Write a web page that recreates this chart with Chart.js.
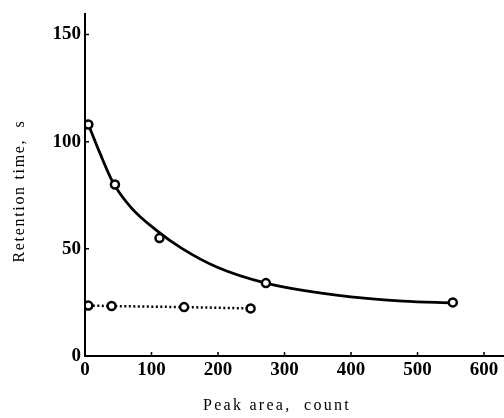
<!DOCTYPE html>
<html>
<head>
<meta charset="utf-8">
<script src="https://cdn.jsdelivr.net/npm/chart.js@4/dist/chart.umd.min.js"></script>
<style>
html,body{margin:0;padding:0;background:#fff;}
#wrap{position:relative;width:504px;height:418px;}
</style>
</head>
<body>
<div id="wrap"><canvas id="c" width="504" height="418"></canvas></div>
<script>
// Data
// measured points (open circles)
const solidX = [5, 45, 112, 272, 553];
const solidY = [108, 80, 55, 34, 25];
const dottedX = [5, 40, 149, 249];
const dottedY = [23.5, 23.3, 22.8, 22.2];
// smooth fitted curve, positions
const curveX = [4.5, 22, 42, 70, 108, 145, 198, 272, 378, 478, 553];
const curveY = [108.5, 95, 81, 69, 58.5, 50.3, 41.5, 34, 28.4, 25.6, 24.8];
const xTicks = [0, 100, 200, 300, 400, 500, 600];
const yTicks = [0, 50, 100, 150];
const xTitle = "Peak area,  count";
const yTitle = "Retention time,  s";

const toPts = (xs, ys) => xs.map((x, i) => ({x: x, y: ys[i]}));

const tickFont = {family: "'Liberation Serif', 'DejaVu Serif', serif", size: 19, weight: 'bold'};

const decor = {
  id: 'decor',
  afterDraw(chart) {
    const ctx = chart.ctx;
    const xs = chart.scales.x, ys = chart.scales.y;
    const ca = chart.chartArea;
    ctx.save();
    ctx.strokeStyle = '#000';
    ctx.lineWidth = 2;
    ctx.beginPath();
    ctx.moveTo(ca.left, ca.top);
    ctx.lineTo(ca.left, ca.bottom);
    ctx.lineTo(ca.right, ca.bottom);
    ctx.stroke();
    ctx.lineWidth = 1.5;
    ctx.beginPath();
    xTicks.forEach(v => { if (v === 0) return; const p = xs.getPixelForValue(v); ctx.moveTo(p, ca.bottom); ctx.lineTo(p, ca.bottom - 4); });
    yTicks.forEach(v => { if (v === 0) return; const p = ys.getPixelForValue(v); ctx.moveTo(ca.left, p); ctx.lineTo(ca.left + 4, p); });
    ctx.stroke();
    ctx.fillStyle = '#000';
    ctx.font = "16px 'Liberation Serif', serif";
    ctx.textBaseline = 'middle';
    ctx.textAlign = 'center';
    const fit = (txt, target) => {
      ctx.letterSpacing = '0px';
      const w = ctx.measureText(txt).width;
      const sp = Math.max(0, (target - w) / txt.length);
      ctx.letterSpacing = sp + 'px';
    };
    fit(xTitle, 148);
    ctx.fillText(xTitle, 277, 406);
    ctx.save();
    ctx.translate(20, 191);
    ctx.rotate(-Math.PI / 2);
    fit(yTitle, 143);
    ctx.fillText(yTitle, 0, 0);
    ctx.restore();
    ctx.restore();
  }
};

new Chart(document.getElementById('c'), {
  type: 'scatter',
  data: {
    datasets: [
      {
        data: toPts(curveX, curveY),
        showLine: true,
        borderColor: '#000',
        borderWidth: 2.8,
        cubicInterpolationMode: 'monotone',
        pointRadius: 0,
        order: 2
      },
      {
        data: toPts(solidX, solidY),
        showLine: false,
        pointRadius: 4,
        pointBorderWidth: 2.5,
        pointBackgroundColor: '#fff',
        pointBorderColor: '#000',
        order: 0
      },
      {
        data: toPts(dottedX, dottedY),
        showLine: true,
        borderColor: '#000',
        borderWidth: 2.5,
        borderDash: [2, 2.5],
        pointRadius: 4,
        pointBorderWidth: 2.5,
        pointBackgroundColor: '#fff',
        pointBorderColor: '#000',
        order: 1
      }
    ]
  },
  options: {
    responsive: false,
    animation: false,
    devicePixelRatio: 1,
    layout: {autoPadding: false, padding: {top: 13, right: 0, left: 0, bottom: 0}},
    plugins: {legend: {display: false}, tooltip: {enabled: false}},
    scales: {
      x: {
        type: 'linear', min: 0, max: 630,
        afterBuildTicks: s => { s.ticks = xTicks.map(v => ({value: v})); },
        afterFit: s => { s.height = 62; s.paddingLeft = 0; s.paddingRight = 0; },
        grid: {display: false, drawTicks: false},
        border: {display: false},
        ticks: {color: '#000', font: tickFont, padding: 3, maxRotation: 0}
      },
      y: {
        type: 'linear', min: 0, max: 160,
        afterBuildTicks: s => { s.ticks = yTicks.map(v => ({value: v})); },
        afterFit: s => { s.width = 85; s.paddingTop = 0; s.paddingBottom = 0; },
        grid: {display: false, drawTicks: false},
        border: {display: false},
        ticks: {color: '#000', font: tickFont, padding: 4}
      }
    }
  },
  plugins: [decor]
});
</script>
</body>
</html>
